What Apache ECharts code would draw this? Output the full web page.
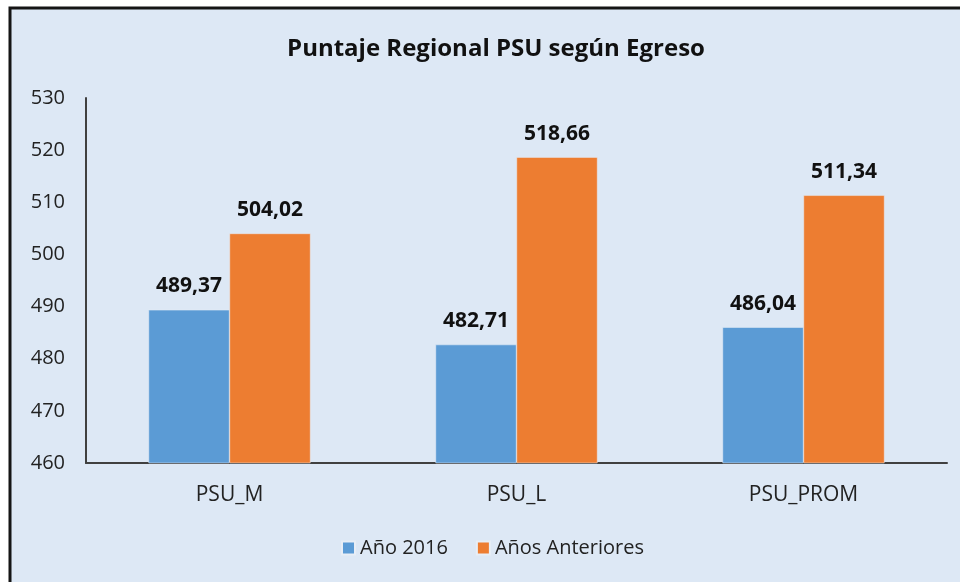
<!DOCTYPE html>
<html>
<head>
<meta charset="utf-8">
<script src="https://cdn.jsdelivr.net/npm/echarts@6/dist/echarts.min.js"></script>
<style>
  html, body { margin: 0; padding: 0; background: #fff; }
  #chart { width: 960px; height: 582px; }
</style>
</head>
<body>
<div id="chart"></div>
<script>
// data
const categories = ['PSU_M', 'PSU_L', 'PSU_PROM'];
const anio2016 = [489.37, 482.71, 486.04];
const aniosAnteriores = [504.02, 518.66, 511.34];
const seriesNames = ['Año 2016', 'Años Anteriores'];

const font = '"Open Sans", "Noto Sans", sans-serif';

const chart = echarts.init(document.getElementById('chart'));

const fmt = p => p.value.toFixed(2).replace('.', ',');

const label = {
    show: true,
    position: 'top',
    distance: 13,
    formatter: fmt,
    fontFamily: font,
    fontWeight: 'bold',
    fontSize: 21,
    color: '#111'
};

const option = {
    backgroundColor: '#fff',
    animation: false,
    graphic: [{
        type: 'rect',
        z: -10,
        shape: { x: 10, y: 8, width: 1000, height: 620 },
        style: { fill: '#dde8f5', stroke: '#151515', lineWidth: 3 },
        silent: true
    }],
    title: {
        text: 'Puntaje Regional PSU según Egreso',
        left: 491,
        textAlign: 'center',
        top: 32,
        textStyle: { fontFamily: font, fontWeight: 'bold', fontSize: 24, color: '#111' }
    },
    legend: {
        data: seriesNames,
        top: 533,
        left: 336,
        itemWidth: 13,
        itemHeight: 13,
        itemGap: 28,
        icon: 'rect',
        textStyle: { fontFamily: font, fontSize: 20, color: '#222' }
    },
    grid: { left: 86, right: 13, top: 98, bottom: 119, containLabel: false },
    xAxis: {
        type: 'category',
        data: categories,
        axisLine: { lineStyle: { color: '#404040', width: 2 } },
        axisTick: { show: false },
        axisLabel: { margin: 22, fontFamily: font, fontSize: 21, color: '#222' }
    },
    yAxis: {
        type: 'value',
        min: 460,
        max: 530,
        interval: 10,
        axisLine: { show: true, lineStyle: { color: '#404040', width: 2 } },
        axisTick: { show: false },
        splitLine: { show: false },
        axisLabel: { margin: 21, fontFamily: font, fontSize: 20, color: '#222' }
    },
    series: [{
        name: seriesNames[0],
        type: 'bar',
        data: anio2016,
        barWidth: 81,
        barGap: '0%',
        itemStyle: { color: '#5b9bd5', borderColor: '#e8eef6', borderWidth: 0.5 },
        label: label
    }, {
        name: seriesNames[1],
        type: 'bar',
        data: aniosAnteriores,
        barWidth: 81,
        itemStyle: { color: '#ed7d31', borderColor: '#e8eef6', borderWidth: 0.5 },
        label: label
    }]
};

chart.setOption(option);
</script>
</body>
</html>
